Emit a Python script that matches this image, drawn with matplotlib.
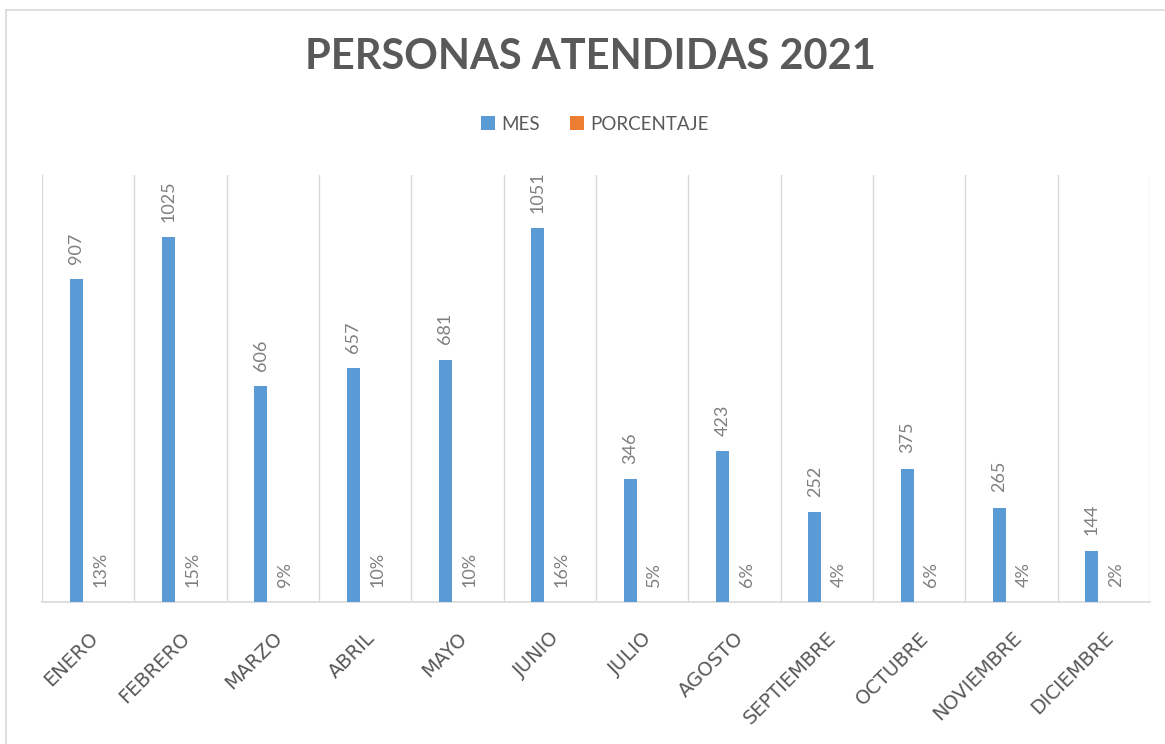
import matplotlib
matplotlib.use('Agg')
import matplotlib.pyplot as plt
import numpy as np
from matplotlib.lines import Line2D

plt.rcParams['font.family'] = ['Lato', 'DejaVu Sans']

meses = ['ENERO', 'FEBRERO', 'MARZO', 'ABRIL', 'MAYO', 'JUNIO', 'JULIO',
         'AGOSTO', 'SEPTIEMBRE', 'OCTUBRE', 'NOVIEMBRE', 'DICIEMBRE']
mes = [907, 1025, 606, 657, 681, 1051, 346, 423, 252, 375, 265, 144]
porcentaje = [0.13, 0.15, 0.09, 0.10, 0.10, 0.16, 0.05, 0.06, 0.04, 0.06, 0.04, 0.02]

C_MES = '#5b9bd5'
C_PCT = '#ed7d31'
TXT = '#595959'
LBL = '#7f7f7f'
GRID = '#d9d9d9'

fig = plt.figure(figsize=(11.65, 7.44), dpi=100)
fig.patch.set_facecolor('white')
ax = fig.add_axes([42/1165, 142/744, 1108/1165, 427/744])

x = np.arange(len(meses))
w = 0.14
b1 = ax.bar(x - 0.13, mes, w, color=C_MES, label='MES', zorder=3)
b2 = ax.bar(x + 0.13, porcentaje, w, color=C_PCT, label='PORCENTAJE', zorder=3)

for r, v in zip(b1, mes):
    ax.annotate(str(v), (r.get_x() + r.get_width()/2, r.get_height()),
                xytext=(0, 11), textcoords='offset points', rotation=90,
                ha='center', va='bottom', fontsize=13, color=LBL)
for r, v in zip(b2, porcentaje):
    ax.annotate(f'{v:.0%}', (r.get_x() + r.get_width()/2, r.get_height()),
                xytext=(0, 11), textcoords='offset points', rotation=90,
                ha='center', va='bottom', fontsize=13, color=LBL)

ax.set_xlim(-0.5, len(meses) - 0.5)
ax.set_ylim(0, 1200)
ax.set_yticks([])
ax.set_xticks(x)
ax.set_xticklabels(meses, rotation=45, ha='right', rotation_mode='anchor',
                   fontsize=14, color=TXT, family='DejaVu Sans')
ax.tick_params(axis='x', length=0, pad=19)
ax.set_xticks(np.arange(len(meses) + 1) - 0.5, minor=True)
ax.grid(axis='x', which='minor', color=GRID, lw=1, zorder=0)
ax.tick_params(axis='x', which='minor', length=0)
for s in ['top', 'right', 'left']:
    ax.spines[s].set_visible(False)
ax.spines['bottom'].set_color(GRID)
ax.spines['bottom'].set_linewidth(1.2)

fig.text(590/1165, 1 - 57/744, 'PERSONAS ATENDIDAS 2021', ha='center', va='center',
         fontsize=30, fontweight='bold', color=TXT)

fig.legend(handles=[b1, b2], labels=['MES', 'PORCENTAJE'], loc='center',
           bbox_to_anchor=(595/1165, 1 - 124/744), ncol=2, frameon=False,
           handlelength=0.75, handleheight=0.75, handletextpad=0.35,
           columnspacing=1.6, fontsize=13.5, labelcolor=TXT)

# marco del grafico
fig.add_artist(Line2D([6/1165, 1], [1 - 10/744, 1 - 10/744], color=GRID, lw=1.2,
                      transform=fig.transFigure))
fig.add_artist(Line2D([6/1165, 6/1165], [0, 1 - 10/744], color=GRID, lw=1.2,
                      transform=fig.transFigure))

plt.savefig('out.png', dpi=100, facecolor='white')
plt.close()
